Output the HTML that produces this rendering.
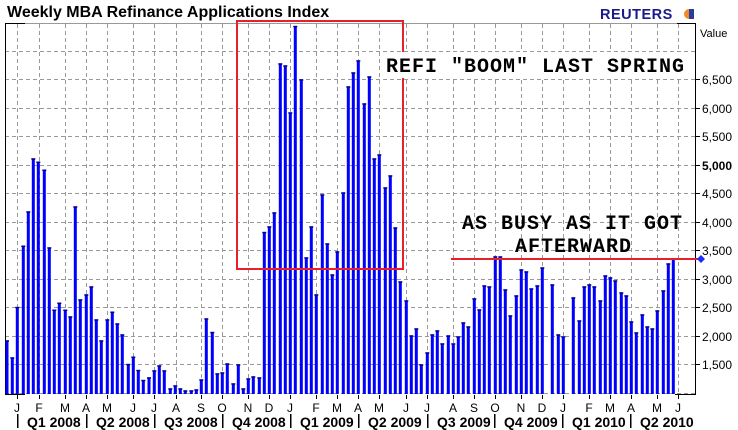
<!DOCTYPE html>
<html><head><meta charset="utf-8"><style>
html,body{margin:0;padding:0;background:#fff;width:738px;height:430px;overflow:hidden}
svg{display:block}
</style></head><body>
<svg id="s" width="738" height="430" xmlns="http://www.w3.org/2000/svg" font-family="Liberation Sans, Arial, sans-serif">
<rect width="738" height="430" fill="#fff"/>
<g id="grid" stroke="#999" stroke-width="1" stroke-dasharray="4,3" fill="none"></g>
<line x1="5" y1="23.5" x2="677" y2="23.5" stroke="#999"/>
<line x1="677" y1="23.5" x2="696" y2="23.5" stroke="#000"/>
<line x1="5" y1="23.5" x2="25" y2="23.5" stroke="#000"/>
<line x1="5.5" y1="23" x2="5.5" y2="395" stroke="#000"/>
<line x1="5" y1="394.5" x2="25" y2="394.5" stroke="#000"/>
<line x1="675" y1="394.5" x2="696" y2="394.5" stroke="#000"/>
<line x1="695.5" y1="23" x2="695.5" y2="395" stroke="#000"/>
<g id="bars"></g>
<g id="ylab" font-size="12" fill="#000"></g>
<g id="xlab" font-size="12" fill="#000" text-anchor="middle"></g>
<g id="qlab" font-size="14" font-weight="bold" fill="#000"></g>
<text x="7" y="17" font-size="16" font-weight="bold" fill="#000">Weekly MBA Refinance Applications Index</text>
<text x="600" y="19" font-size="14.5" font-weight="bold" fill="#1a1a8c" letter-spacing="0.5">REUTERS</text>
<circle cx="689" cy="14" r="5" fill="#f08c28"/>
<rect x="689" y="9" width="5" height="10" fill="#2b3d9a"/>
<text x="700" y="37" font-size="11" fill="#000">Value</text>
<rect x="237" y="21" width="166" height="248" fill="none" stroke="#e8202a" stroke-width="2"/>
<line x1="451" y1="259" x2="699" y2="259" stroke="#e8202a" stroke-width="2"/>
<path d="M701 255 L705 259 L701 263 L697 259 Z" fill="#1a2cff"/>
<g font-family="Liberation Mono, Courier New, monospace" font-weight="bold" font-size="20" fill="#000" letter-spacing="1">
<rect x="382" y="52" width="306" height="26" fill="#fff"/>
<text x="386" y="72">REFI "BOOM" LAST SPRING</text>
<text x="462" y="229">AS BUSY AS IT GOT</text>
<text x="515" y="252">AFTERWARD</text>
</g>
</svg>
<script>
var NS="http://www.w3.org/2000/svg";
function el(p,t,a,txt){var e=document.createElementNS(NS,t);for(var k in a)e.setAttribute(k,a[k]);if(txt)e.textContent=txt;document.getElementById(p).appendChild(e);}
var hy=[51.3,79.3,108.3,136.3,165.3,193.3,222.3,250.3,279.3,307.3,336.3,364.3,393.3];
hy.forEach(function(y){el("grid","line",{x1:5,x2:695,y1:Math.round(y)+0.5,y2:Math.round(y)+0.5});});
var mx=[17,39,65,86,107,133,154,176,201,222,248,269,290,316,337,358,379,406,427,453,474,495,521,542,563,589,610,631,657,678];
var ml="JFMAMJJASONDJFMAMJJASONDJFMAMJ";
mx.forEach(function(x,i){el("grid","line",{x1:x+0.5,x2:x+0.5,y1:24,y2:394});
 el("grid","line",{x1:x+0.5,x2:x+0.5,y1:395,y2:399,"stroke-dasharray":"none",stroke:"#000"});
 el("xlab","text",{x:x,y:412},ml[i]);});
var vals=["6,500","6,000","5,500","5,000","4,500","4,000","3,500","3,000","2,500","2,000","1,500"];
vals.forEach(function(v,i){var y=hy[i+1];el("ylab","line",{x1:696,x2:700,y1:Math.round(y)+0.5,y2:Math.round(y)+0.5,stroke:"#000"});
 el("ylab","text",{x:702,y:y+4.5,"font-weight":v=="5,000"?"bold":"normal"},v);});
var q=[[17,"Q1 2008"],[86,"Q2 2008"],[154,"Q3 2008"],[222,"Q4 2008"],[290,"Q1 2009"],[358,"Q2 2009"],[427,"Q3 2009"],[494,"Q4 2009"],[562,"Q1 2010"],[630,"Q2 2010"]];
q.forEach(function(a){el("qlab","rect",{x:a[0],y:414,width:1.5,height:14,fill:"#000"});el("qlab","text",{x:a[0]+10,y:427},a[1]);});
var d=[[7,340.7],[12.3,357.7],[17.3,307.3],[23.3,246],[28.3,211.7],[33.3,158.7],[38.3,162],[44.3,170],[49.3,247.7],[54.3,310],[59.3,303],[65.3,310],[70.3,316.7],[75.3,206.7],[80.3,299.7],[86.3,294.7],[91.3,286.7],[96.3,319.7],[101.3,340.7],[107.3,319.7],[112.3,312],[117.3,323.7],[122.3,334.7],[128.3,364.3],[133.3,357],[138.3,370.3],
[143.3,380.3],[149,377.7],[154.3,370.7],[159.3,365.7],[164.3,370.7],[170.3,388.7],[175.3,385.7],[180.3,388.7],[185.3,390.7],[191.3,390.7],[196.3,389.7],[201.3,379.7],[206.3,318.7],[212.3,332.3],[217.3,373.7],[222.3,372.7],[227.3,363.7],[233.3,383.7],[238.3,364.7],[243.3,388.7],[248.3,378.7],[253.3,376.7],[259.3,377.7],[264.3,232.3],[269.3,226.7],[274.3,212.7],
[280.3,63.7],[285.3,65.7],[290.3,112.7],[295.3,26.3],[301.3,79.7],[306.3,257.7],[311.3,226.7],[316.3,294.7],[322.3,194.7],[327.3,243.7],[332.3,274.7],[337.3,251.7],[343.3,192.7],[348.3,86.7],[353.3,72.7],[358.3,60.7],[364.3,103.7],[369.3,76.7],[374.3,158.7],[379.3,154.7],[385.3,187.7],[390.3,175.7],[395.3,227.7],[400.3,281.7],[406.3,300.7],
[411.3,335.7],[416.3,328.7],[421.3,364.7],[427.3,352.7],[432.3,334.7],[437.3,330.7],[442.3,343.7],[448.3,335.7],[453.3,343.7],[458.3,336.7],[463.3,322.7],[468.3,326.7],[474.3,298.7],[479.3,309.7],[484.3,285.7],[489.3,286.7],[495.3,256.7],[500.3,256.7],[505.3,289.7],[510.3,315.7],[516.3,295.7],[521.3,269.7],[526.3,271.7],[531.3,288.7],[537.3,285.7],[542.3,267.7],
[552.3,284.7],[558.3,334.7],[563.3,336.7],[573.3,297.7],[579.3,320.7],[584.3,286.7],[589.3,284.7],[594.3,286.7],[600.3,300.7],[605.3,275.7],[610.3,277.7],[615.3,280.7],[621.3,292.7],[626.3,295.7],[631.3,321.7],[636.3,332.7],[642.3,314.7],[647.3,326.7],[652.3,328.7],[657.3,310.7],[663.3,290.7],[668.3,263.7],[673.3,258.7]];
d.forEach(function(b){var x=b[0]-1.5,t=b[1];
 el("bars","rect",{x:x,y:t,width:3,height:394-t,fill:"#0000ff"});
 el("bars","rect",{x:x-0.5,y:t-0.5,width:4,height:1.5,fill:"#00008b"});});
</script>
</body></html>
